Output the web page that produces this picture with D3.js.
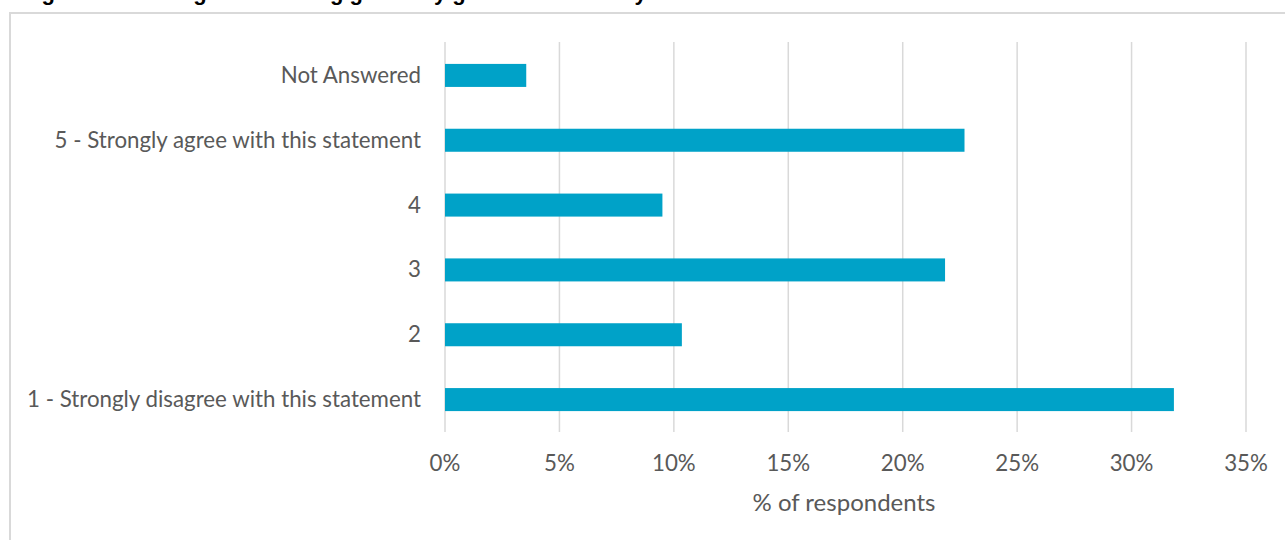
<!DOCTYPE html>
<html><head><meta charset="utf-8">
<script src="https://cdn.jsdelivr.net/npm/d3@7"></script>
<style>body{margin:0;background:#fff;} svg{display:block;}</style>
</head><body>
<svg id="c" width="1285" height="540"></svg>
<script>
const categories = ["Not Answered","5 - Strongly agree with this statement","4","3","2","1 - Strongly disagree with this statement"];
const values = [3.55, 22.7, 9.5, 21.85, 10.35, 31.85];
const xTicks = [0,5,10,15,20,25,30,35];
const titleText = "Figure 6: Training and learning generally gives the best way to learn";
const axisTitle = "% of respondents";

const svg = d3.select("#c");
const FONT = "Lato, 'Open Sans', sans-serif";
const x = d3.scaleLinear().domain([0,35]).range([445,1246]);
const y = d3.scaleBand().domain(categories).range([43,432]).paddingInner(0.645).paddingOuter(0.3225);

// title (cut off at top, as in the reference)
svg.append("text").attr("x",22).attr("y",0).attr("font-family","'Liberation Sans', Arial, sans-serif")
  .attr("font-weight","bold").attr("font-size",22).attr("fill","#000").text(titleText);

// chart border
svg.append("path").attr("d","M10,545 V13 H1290").attr("fill","none").attr("stroke","#d9d9d9").attr("stroke-width",2);

// gridlines
svg.append("g").selectAll("line").data(xTicks).join("line")
  .attr("x1",d=>x(d)).attr("x2",d=>x(d)).attr("y1",42).attr("y2",432)
  .attr("stroke","#d9d9d9").attr("stroke-width",1.5);

// bars
svg.append("g").selectAll("rect").data(values).join("rect")
  .attr("x",x(0)).attr("y",(d,i)=>y(categories[i])).attr("height",y.bandwidth())
  .attr("width",d=>x(d)-x(0)).attr("fill","#00a2c8");

// y labels
svg.append("g").selectAll("text").data(categories).join("text")
  .attr("x",421).attr("y",d=>y(d)+y.bandwidth()/2+7.5).attr("text-anchor","end")
  .attr("font-family",FONT).attr("font-size",22.3).attr("fill","#595959").text(d=>d);

// x tick labels
svg.append("g").selectAll("text").data(xTicks).join("text")
  .attr("x",d=>x(d)).attr("y",471).attr("text-anchor","middle")
  .attr("font-family",FONT).attr("font-size",22.3).attr("fill","#595959").text(d=>d+"%");

svg.append("text").attr("x",844).attr("y",511).attr("text-anchor","middle")
  .attr("font-family",FONT).attr("font-size",24).attr("fill","#595959").text(axisTitle);
</script>
</body></html>
